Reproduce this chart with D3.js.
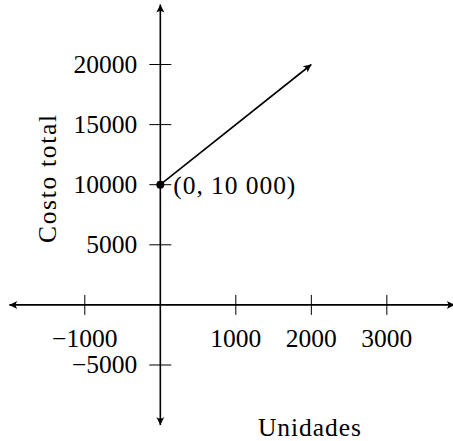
<!DOCTYPE html>
<html>
<head>
<meta charset="utf-8">
<script src="https://cdn.jsdelivr.net/npm/d3@7"></script>
<style>
  html, body { margin: 0; padding: 0; background: #fff; }
  svg text { font-family: "Liberation Serif", "Times New Roman", serif; fill: #000; }
</style>
</head>
<body>
<svg id="chart" width="453" height="441"></svg>
<script>
// Cost function: fixed cost 10 000 at zero units, rising to 20 000 at 2000 units
const costUnits = [0, 2000];
const costValues = [10000, 20000];
const xTicks = [-1000, 1000, 2000, 3000];
const yTicks = [-5000, 5000, 10000, 15000, 20000];
const xTickLabels = ["\u22121000", "1000", "2000", "3000"];
const yTickLabels = ["\u22125000", "5000", "10000", "15000", "20000"];
const pointLabel = "(0, 10 000)";
const xTitle = "Unidades";
const yTitle = "Costo total";

const svg = d3.select("#chart");

const x = d3.scaleLinear().domain([-2000, 3900]).range([9.3, 454.8]);
const y = d3.scaleLinear().domain([-10000, 25000]).range([425.1, 4.4]);

const defs = svg.append("defs");
defs.append("marker")
  .attr("id", "tip")
  .attr("viewBox", "-9 -5 10 10")
  .attr("refX", 0).attr("refY", 0)
  .attr("markerWidth", 10).attr("markerHeight", 10)
  .attr("markerUnits", "userSpaceOnUse")
  .attr("orient", "auto")
  .append("path")
  .attr("d", "M0,0 L-8,-4 Q-5,0 -8,4 Z")
  .attr("fill", "#000");

// axes through the origin, arrow at each end
const axisEnds = [
  [[0, 0], [-2000, 0]],
  [[0, 0], [3900, 0]],
  [[0, 0], [0, 25000]],
  [[0, 0], [0, -10000]]
];
svg.append("g").selectAll("line").data(axisEnds).join("line")
  .attr("x1", d => x(d[0][0])).attr("y1", d => y(d[0][1]))
  .attr("x2", d => x(d[1][0])).attr("y2", d => y(d[1][1]))
  .attr("stroke", "#000").attr("stroke-width", 1.6)
  .attr("marker-end", "url(#tip)");

// x ticks and labels
const xt = svg.append("g").selectAll("g").data(xTicks).join("g")
  .attr("transform", d => `translate(${x(d)},${y(0)})`);
xt.append("line").attr("y1", -10).attr("y2", 10)
  .attr("stroke", "#000").attr("stroke-width", 1);
xt.append("text")
  .attr("y", 42)
  .attr("text-anchor", "middle")
  .attr("font-size", 25.5)
  .text((d, i) => xTickLabels[i]);

// y ticks and labels
const yt = svg.append("g").selectAll("g").data(yTicks).join("g")
  .attr("transform", d => `translate(${x(0)},${y(d)})`);
yt.append("line").attr("x1", -11).attr("x2", 11)
  .attr("stroke", "#000").attr("stroke-width", 1);
yt.append("text")
  .attr("x", -23)
  .attr("y", 8)
  .attr("text-anchor", "end")
  .attr("font-size", 25.5)
  .text((d, i) => yTickLabels[i]);

// cost line with arrow
const line = d3.line().x(d => x(d[0])).y(d => y(d[1]));
svg.append("path")
  .datum(costUnits.map((u, i) => [u, costValues[i]]))
  .attr("d", line)
  .attr("fill", "none")
  .attr("stroke", "#000").attr("stroke-width", 1.6)
  .attr("marker-end", "url(#tip)");

// intercept point
svg.append("circle")
  .attr("cx", x(costUnits[0])).attr("cy", y(costValues[0]))
  .attr("r", 4).attr("fill", "#000");
svg.append("text")
  .attr("x", x(costUnits[0]) + 13)
  .attr("y", y(costValues[0]) + 9)
  .attr("font-size", 25.5)
  .attr("textLength", 122)
  .text(pointLabel);

// axis titles
svg.append("text")
  .attr("x", 258).attr("y", 436)
  .attr("font-size", 25.5)
  .attr("textLength", 103)
  .text(xTitle);
svg.append("text")
  .attr("transform", "translate(56,243) rotate(-90)")
  .attr("font-size", 25.5)
  .attr("textLength", 128)
  .text(yTitle);
</script>
</body>
</html>
